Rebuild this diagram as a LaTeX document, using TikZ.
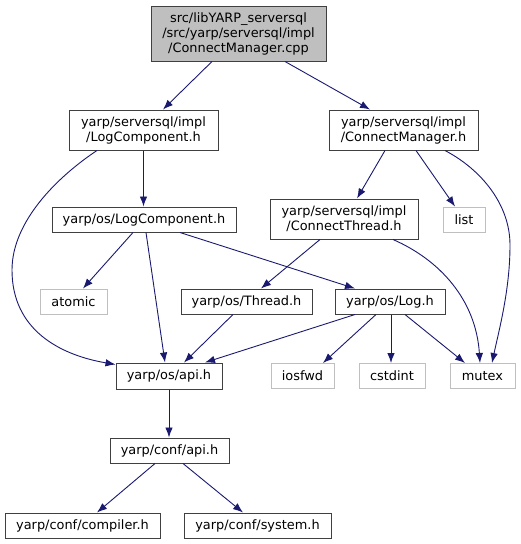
\documentclass[tikz,border=0pt]{standalone}
\usepackage{fontspec}
\setmainfont{DejaVu Sans}
\usetikzlibrary{arrows.meta}
\definecolor{edgec}{HTML}{191970}
\definecolor{grayb}{HTML}{BFBFBF}
\definecolor{darkb}{HTML}{404040}
\tikzset{
  every node/.style={font=\fontsize{12.9}{15}\selectfont, inner sep=0pt, align=center, text=black},
  hnode/.style={draw=darkb, line width=1pt, fill=white},
  snode/.style={draw=grayb, line width=1pt, fill=white},
  rootnode/.style={draw=darkb, line width=1pt, fill=grayb},
  edge/.style={draw=edgec, line width=0.9pt, -{Latex[length=10pt,width=7.5pt]}},
}
\begin{document}
\begin{tikzpicture}[x=1pt,y=-1pt]
\useasboundingbox (0,0) rectangle (520,544);
\node[rootnode, minimum width=175, minimum height=55] (root) at (238.5,33.5) {src/libYARP\_serversql\\/src/yarp/serversql/impl\\/ConnectManager.cpp};
\node[hnode, minimum width=149, minimum height=40] (implLog) at (143.5,130) {yarp/serversql/impl\\/LogComponent.h};
\node[hnode, minimum width=149, minimum height=40] (cmh) at (403.5,130) {yarp/serversql/impl\\/ConnectManager.h};
\node[hnode, minimum width=184, minimum height=25] (osLog) at (144,219.5) {yarp/os/LogComponent.h};
\node[hnode, minimum width=148, minimum height=40] (cthr) at (344,219) {yarp/serversql/impl\\/ConnectThread.h};
\node[snode, minimum width=42, minimum height=25] (list) at (464,219.5) {list};
\node[snode, minimum width=67, minimum height=25] (atomic) at (73.5,301.5) {atomic};
\node[hnode, minimum width=131, minimum height=25] (thread) at (246.5,301.5) {yarp/os/Thread.h};
\node[hnode, minimum width=110, minimum height=25] (log) at (390,301.5) {yarp/os/Log.h};
\node[hnode, minimum width=106, minimum height=26] (osapi) at (169,376) {yarp/os/api.h};
\node[snode, minimum width=63, minimum height=25] (iosfwd) at (302.5,376) {iosfwd};
\node[snode, minimum width=66, minimum height=25] (cstdint) at (392,376) {cstdint};
\node[snode, minimum width=65, minimum height=25] (mutex) at (482.5,376) {mutex};
\node[hnode, minimum width=119, minimum height=25] (confapi) at (169.5,450.5) {yarp/conf/api.h};
\node[hnode, minimum width=155, minimum height=25] (compiler) at (82.5,525.5) {yarp/conf/compiler.h};
\node[hnode, minimum width=147, minimum height=25] (system) at (257.5,525.5) {yarp/conf/system.h};

\draw[edge] ([xshift=-26.5]root.south) -- ([xshift=19.5]implLog.north);
\draw[edge] ([xshift=46.5]root.south) -- ([xshift=-33.5]cmh.north);
\draw[edge] ([xshift=-46.5]implLog.south) .. controls (60,175) and (12,220) .. (12,270) .. controls (12,330) and (60,355) .. ([yshift=-2]osapi.north west);
\draw[edge] (implLog.south) -- ([xshift=-0.5]osLog.north);
\draw[edge] ([xshift=-18.5]cmh.south) -- ([xshift=13]cthr.north);
\draw[edge] ([xshift=12.5]cmh.south) -- ([xshift=-9]list.north);
\draw[edge] ([xshift=41.5]cmh.south) .. controls (482,170) and (510,205) .. (510,245) .. controls (510,290) and (499,330) .. ([xshift=9.5]mutex.north);
\draw[edge] ([xshift=-11]osLog.south) -- ([xshift=9.5]atomic.north);
\draw[edge] ([xshift=2]osLog.south) -- ([xshift=-4]osapi.north);
\draw[edge] ([xshift=36]osLog.south) -- ([xshift=-35]log.north);
\draw[edge] ([xshift=-24]cthr.south) -- ([xshift=14.5]thread.north);
\draw[edge] ([xshift=49]cthr.south) .. controls (440,260) and (476,300) .. ([xshift=-2.5]mutex.north);
\draw[edge] ([xshift=-13.5]thread.south) -- ([xshift=15]osapi.north);
\draw[edge] ([xshift=-35]log.south) -- ([xshift=36]osapi.north);
\draw[edge] ([xshift=-14]log.south) -- ([xshift=20.5]iosfwd.north);
\draw[edge] ([xshift=1]log.south) -- ([xshift=-1]cstdint.north);
\draw[edge] ([xshift=15]log.south) -- ([xshift=-17.5]mutex.north);
\draw[edge] (osapi.south) -- ([xshift=-0.5]confapi.north);
\draw[edge] ([xshift=-14.5]confapi.south) -- ([xshift=14.5]compiler.north);
\draw[edge] ([xshift=13.5]confapi.south) -- ([xshift=-14.5]system.north);
\end{tikzpicture}
\end{document}
